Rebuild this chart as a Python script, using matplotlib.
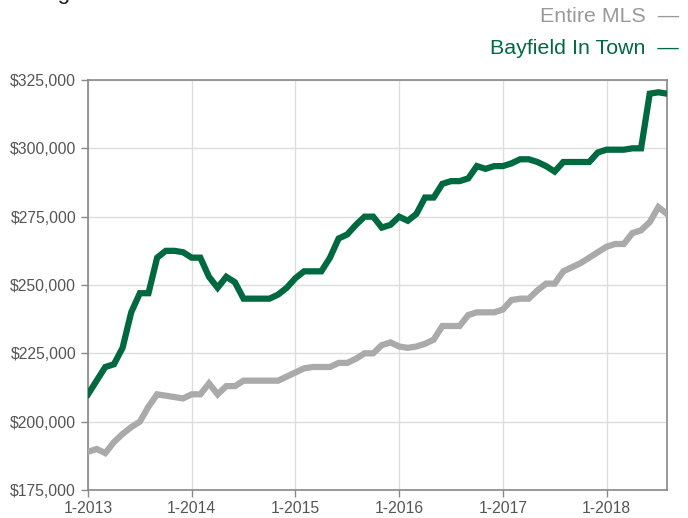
import matplotlib
matplotlib.use('Agg')
import matplotlib.pyplot as plt
from matplotlib.ticker import FuncFormatter

plt.rcParams['font.family'] = ['Liberation Sans', 'DejaVu Sans']

# Monthly values, 1-2013 .. 8-2018 (68 months)
bayfield = [210000, 215000, 220000, 221000, 227000, 240000, 247000, 247000,
            260000, 262500, 262500, 262000, 260000, 260000, 253000, 249000,
            253000, 251000, 245000, 245000, 245000, 245000, 246500, 249000,
            252500, 255000, 255000, 255000, 260000, 267000, 268500, 272000,
            275000, 275000, 271000, 272000, 275000, 273500, 276000, 282000,
            282000, 287000, 288000, 288000, 289000, 293500, 292500, 293500,
            293500, 294500, 296000, 296000, 295000, 293500, 291500, 295000,
            295000, 295000, 295000, 298500, 299500, 299500, 299500, 300000,
            300000, 320000, 320500, 320000]
entire_mls = [189000, 190000, 188500, 192500, 195500, 198000, 200000, 205500,
              210000, 209500, 209000, 208500, 210000, 210000, 214000, 210000,
              213000, 213000, 215000, 215000, 215000, 215000, 215000, 216500,
              218000, 219500, 220000, 220000, 220000, 221500, 221500, 223000,
              225000, 225000, 228000, 229000, 227500, 227000, 227500, 228500,
              230000, 235000, 235000, 235000, 239000, 240000, 240000, 240000,
              241000, 244500, 245000, 245000, 248000, 250500, 250500, 255000,
              256500, 258000, 260000, 262000, 264000, 265000, 265000, 269000,
              270000, 273000, 278500, 276000]
x_ticks = [0, 12, 24, 36, 48, 60]
x_labels = ['1-2013', '1-2014', '1-2015', '1-2016', '1-2017', '1-2018']
y_ticks = [175000, 200000, 225000, 250000, 275000, 300000, 325000]

green = '#006940'
gray = '#aaaaaa'
months = list(range(len(bayfield)))

fig = plt.figure(figsize=(6.88, 5.18), dpi=100)
ax = fig.add_axes([88 / 688, 28 / 518, 579 / 688, 410 / 518])

ax.plot(months, entire_mls, color=gray, linewidth=4.5, solid_joinstyle='miter', zorder=3)
ax.plot(months, bayfield, color=green, linewidth=4.5, solid_joinstyle='miter', zorder=4)

ax.set_xlim(0, len(months) - 1)
ax.set_ylim(175000, 325000)
ax.set_xticks(x_ticks)
ax.set_xticklabels(x_labels)
ax.set_yticks(y_ticks)
ax.yaxis.set_major_formatter(FuncFormatter(lambda v, p: f'${v:,.0f}'))

ax.grid(True, color='#dddddd', linewidth=1)
ax.set_axisbelow(True)
for s in ax.spines.values():
    s.set_color('#888888')
    s.set_linewidth(1.2)
ax.tick_params(axis='both', colors='#888888', length=5, width=1, labelsize=11.3,
               labelcolor='#555555')
ax.tick_params(axis='x', pad=3)

# header of the page, mostly clipped at the top edge
fig.text(2 / 688, 1 + 1 / 518, 'Rolling 12-Month Calculation', fontsize=16,
         color='#222222', ha='left', va='baseline')

fig.text(679 / 688, 1 - 17 / 518, 'Entire MLS  \u2014', fontsize=15.4, color='#999999',
         ha='right', va='center')
fig.text(679 / 688, 1 - 48 / 518, 'Bayfield In Town  \u2014', fontsize=15.4, color=green,
         ha='right', va='center')

fig.savefig('out.png', dpi=100)
